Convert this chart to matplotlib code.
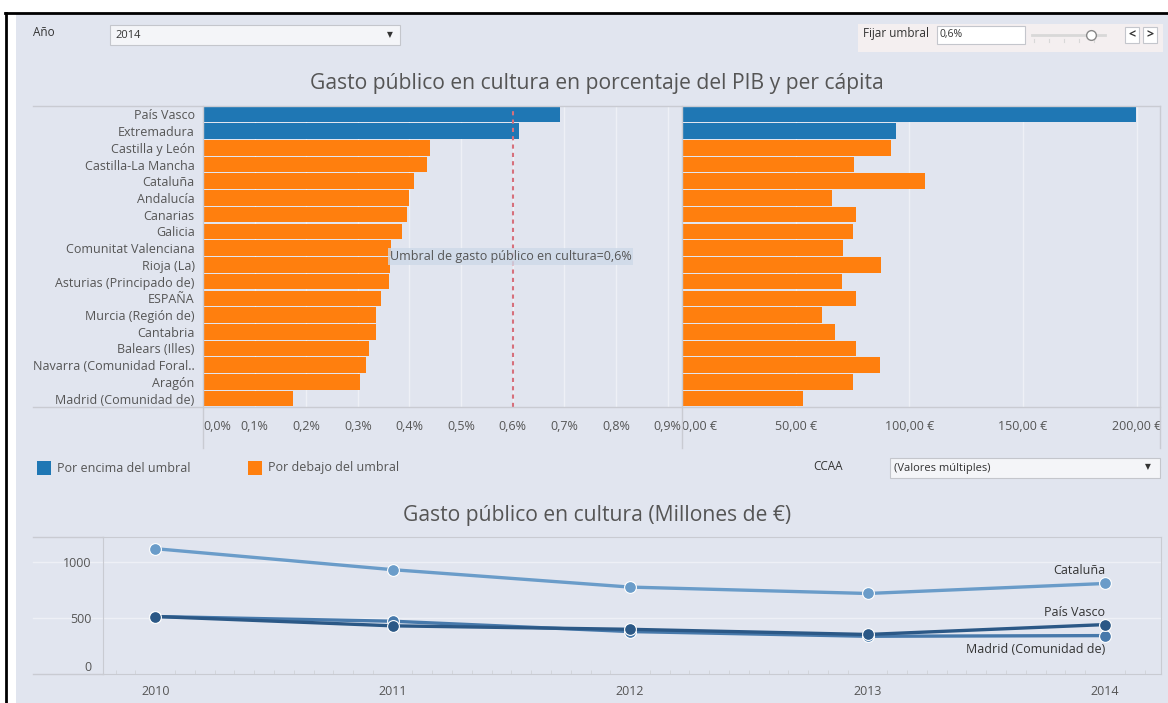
import matplotlib.pyplot as plt
from matplotlib.patches import Rectangle
from matplotlib.lines import Line2D

plt.rcParams["font.family"] = ["Open Sans", "DejaVu Sans"]

W, H = 1168, 703
BG = "#e1e5ef"
GRID = "#eef0f6"
FRAME = "#c9cbd2"
TXT = "#555555"
BLUE = "#1f77b4"
ORANGE = "#ff7f0e"
FS = 9

# datos (año 2014)
ccaa = ["País Vasco", "Extremadura", "Castilla y León", "Castilla-La Mancha", "Cataluña",
        "Andalucía", "Canarias", "Galicia", "Comunitat Valenciana", "Rioja (La)",
        "Asturias (Principado de)", "ESPAÑA", "Murcia (Región de)", "Cantabria",
        "Balears (Illes)", "Navarra (Comunidad Foral..", "Aragón", "Madrid (Comunidad de)"]
pct_pib = [0.692, 0.612, 0.439, 0.434, 0.408, 0.399, 0.395, 0.385, 0.364, 0.362,
           0.360, 0.344, 0.336, 0.336, 0.322, 0.315, 0.305, 0.174]
per_capita = [199.8, 94.0, 92.1, 75.8, 106.9, 66.0, 76.3, 75.4, 70.7, 87.4,
              70.2, 76.3, 61.4, 67.5, 76.3, 87.0, 75.4, 53.1]
umbral = 0.6

pct_ticks = [0.0, 0.1, 0.2, 0.3, 0.4, 0.5, 0.6, 0.7, 0.8, 0.9]
eur_ticks = [0, 50, 100, 150, 200]

years = [2010, 2011, 2012, 2013, 2014]
series = {
    "Cataluña": [1116, 929, 774, 717, 806],
    "País Vasco": [512, 429, 398, 352, 440],
    "Madrid (Comunidad de)": [512, 470, 378, 336, 342],
}
series_colors = {"Cataluña": "#6a9cc9", "País Vasco": "#2b5886", "Madrid (Comunidad de)": "#4779ab"}
# desplazamiento vertical de las etiquetas finales (en millones de €)
label_offset = {"Cataluña": 114, "País Vasco": 105, "Madrid (Comunidad de)": -125}


def box(l, t, r, b):
    return [l / W, 1 - b / H, (r - l) / W, (b - t) / H]


def fline(x0, y0, x1, y1, color=FRAME, lw=1.0, **kw):
    fig.add_artist(Line2D([x0 / W, x1 / W], [1 - y0 / H, 1 - y1 / H], color=color, lw=lw, **kw))


def frect(l, t, r, b, fc, ec="none", lw=0.8, z=-5):
    fig.add_artist(Rectangle((l / W, 1 - b / H), (r - l) / W, (b - t) / H,
                             facecolor=fc, edgecolor=ec, lw=lw, zorder=z))


def ftext(x, y, s, **kw):
    fig.text(x / W, 1 - y / H, s, **kw)


fig = plt.figure(figsize=(W / 100, H / 100), dpi=100, facecolor="white")

# fondo y marco negro
frect(16, 14, W, H, BG, z=-10)
fline(5, 13, W, 13, color="black", lw=2)
fline(6, 13, 6, H, color="black", lw=2)

# filtros superiores
ftext(33, 33, "Año", fontsize=8.5, color="#333333", va="center")
frect(110, 25, 400, 45, "#f4f5f8", ec="#c4c6cc")
ftext(115, 35, "2014", fontsize=8, color="#333333", va="center")
ftext(390, 35, "▼", fontsize=5.5, color="#333333", va="center", ha="center", family="DejaVu Sans")

frect(858, 24, 1163, 52, "#f4eff0")
ftext(863, 34, "Fijar umbral", fontsize=8.5, color="#333333", va="center")
frect(937, 26, 1025, 44, "white", ec="#c4c6cc")
ftext(940, 35, "0,6%", fontsize=7.5, color="#333333", va="center")
fline(1032, 35, 1105, 35, color="#d8d8d8", lw=2)
for tx in [1034, 1049, 1064, 1079, 1094]:
    fline(tx, 39, tx, 42, color="#d8d8d8", lw=0.8)
fig.add_artist(Line2D([1091 / W], [1 - 35 / H], marker="o", ms=7, mfc="white", mec="#888888", mew=1))
frect(1125, 27, 1139, 43, "white", ec="#c4c6cc")
frect(1143, 27, 1157, 43, "white", ec="#c4c6cc")
ftext(1132, 35, "<", fontsize=9, color="#333333", va="center", ha="center", weight="bold")
ftext(1150, 35, ">", fontsize=9, color="#333333", va="center", ha="center", weight="bold")

# título superior
ftext(597, 84, "Gasto público en cultura en porcentaje del PIB y per cápita",
      fontsize=15.2, color=TXT, ha="center", va="center")

bar_colors = [BLUE if v > umbral else ORANGE for v in pct_pib]
rows = list(range(len(ccaa)))

# panel izquierdo: % del PIB
ax_l = fig.add_axes(box(203, 106, 682, 407))
ax_l.set_facecolor("none")
for t in pct_ticks[1:]:
    ax_l.axvline(t, color=GRID, lw=1, zorder=0)
ax_l.barh(rows, pct_pib, height=0.93, color=bar_colors, zorder=2)
ax_l.axvline(umbral, color="#d6707c", lw=1.5, ls=(0, (2, 2)), zorder=3)
ax_l.text(0.362, 8.52, "Umbral de gasto público en cultura=0,6%", fontsize=FS,
          color="#555555", va="center", ha="left", zorder=4,
          bbox=dict(boxstyle="square,pad=0.15", fc="#cdd9e8", ec="none", alpha=0.8))
ax_l.set_xlim(0, 0.928)
ax_l.set_ylim(len(ccaa) - 0.5, -0.5)
ax_l.set_yticks(rows)
ax_l.set_yticklabels(ccaa, fontsize=FS, color=TXT)
ax_l.set_xticks(pct_ticks)
ax_l.set_xticklabels([f"{t:.1f}%".replace(".", ",") for t in pct_ticks], fontsize=FS, color=TXT)
ax_l.get_xticklabels()[0].set_horizontalalignment("left")
ax_l.tick_params(length=0, pad=9)
ax_l.tick_params(axis="y", pad=6)
for s in ax_l.spines.values():
    s.set_visible(False)

# panel derecho: per cápita
ax_r = fig.add_axes(box(682, 106, 1160, 407))
ax_r.set_facecolor("none")
for t in eur_ticks[1:]:
    ax_r.axvline(t, color=GRID, lw=1, zorder=0)
ax_r.barh(rows, per_capita, height=0.93, color=bar_colors, zorder=2)
ax_r.set_xlim(0, 210.2)
ax_r.set_ylim(len(ccaa) - 0.5, -0.5)
ax_r.set_yticks([])
ax_r.set_xticks(eur_ticks)
ax_r.set_xticklabels([f"{t:.2f} €".replace(".", ",") for t in eur_ticks], fontsize=FS, color=TXT)
ax_r.get_xticklabels()[0].set_horizontalalignment("left")
ax_r.tick_params(length=0, pad=9)
for s in ax_r.spines.values():
    s.set_visible(False)

# líneas de marco del bloque de barras
fline(33, 106, 1160, 106)
fline(33, 407, 1160, 407)
for vx in [203, 682, 1160]:
    fline(vx, 106, vx, 448)

# leyenda
frect(37, 461, 51, 475, BLUE)
ftext(57, 468, "Por encima del umbral", fontsize=FS, color=TXT, va="center")
frect(248, 461, 262, 475, ORANGE)
ftext(268, 468, "Por debajo del umbral", fontsize=FS, color=TXT, va="center")

ftext(813, 466, "CCAA", fontsize=8.5, color="#333333", va="center")
frect(890, 458, 1160, 478, "#f4f5f8", ec="#c4c6cc")
ftext(894, 468, "(Valores múltiples)", fontsize=8, color="#333333", va="center")
ftext(1148, 467, "▼", fontsize=5.5, color="#333333", va="center", ha="center", family="DejaVu Sans")

# título inferior
ftext(597, 515, "Gasto público en cultura (Millones de €)", fontsize=15.2, color=TXT,
      ha="center", va="center")

# gráfico de líneas
ax_b = fig.add_axes(box(103, 537, 1161, 674))
ax_b.set_facecolor("none")
ax_b.set_xlim(2009.78, 2014.236)
ax_b.set_ylim(0, 1220)
ext = (103 - 33) / (1161 - 103)
for t in [500, 1000]:
    ax_b.axhline(t, xmin=-ext, xmax=1, color=GRID, lw=1, clip_on=False, zorder=0)
for name in ["Cataluña", "Madrid (Comunidad de)", "País Vasco"]:
    ax_b.plot(years, series[name], color=series_colors[name], lw=2.4, marker="o", ms=8.5,
              mec="white", mew=0.8, zorder=3, solid_capstyle="round")
for name, vals in series.items():
    ax_b.text(years[-1], vals[-1] + label_offset[name], name, fontsize=FS, color="#333333",
              ha="right", va="center")
ax_b.set_xticks(years)
ax_b.set_xticklabels([str(y) for y in years], fontsize=FS, color=TXT)
ax_b.set_xticks([y + m / 12 for y in range(2009, 2015) for m in range(12)
                 if 2009.78 < y + m / 12 < 2014.236], minor=True)
ax_b.set_yticks([0, 500, 1000])
ax_b.set_yticklabels(["0", "500", "1000"], fontsize=FS, color=TXT)
ax_b.get_yticklabels()[0].set_verticalalignment("bottom")
ax_b.tick_params(axis="x", which="major", length=0, pad=8)
ax_b.tick_params(axis="x", which="minor", length=3, direction="in", color="#d0d2d8")
ax_b.tick_params(axis="y", length=0, pad=8)
for s in ax_b.spines.values():
    s.set_color(FRAME)
fline(33, 537, 103, 537)
fline(33, 674, 103, 674)

fig.savefig("out.png", dpi=100, facecolor="white")
